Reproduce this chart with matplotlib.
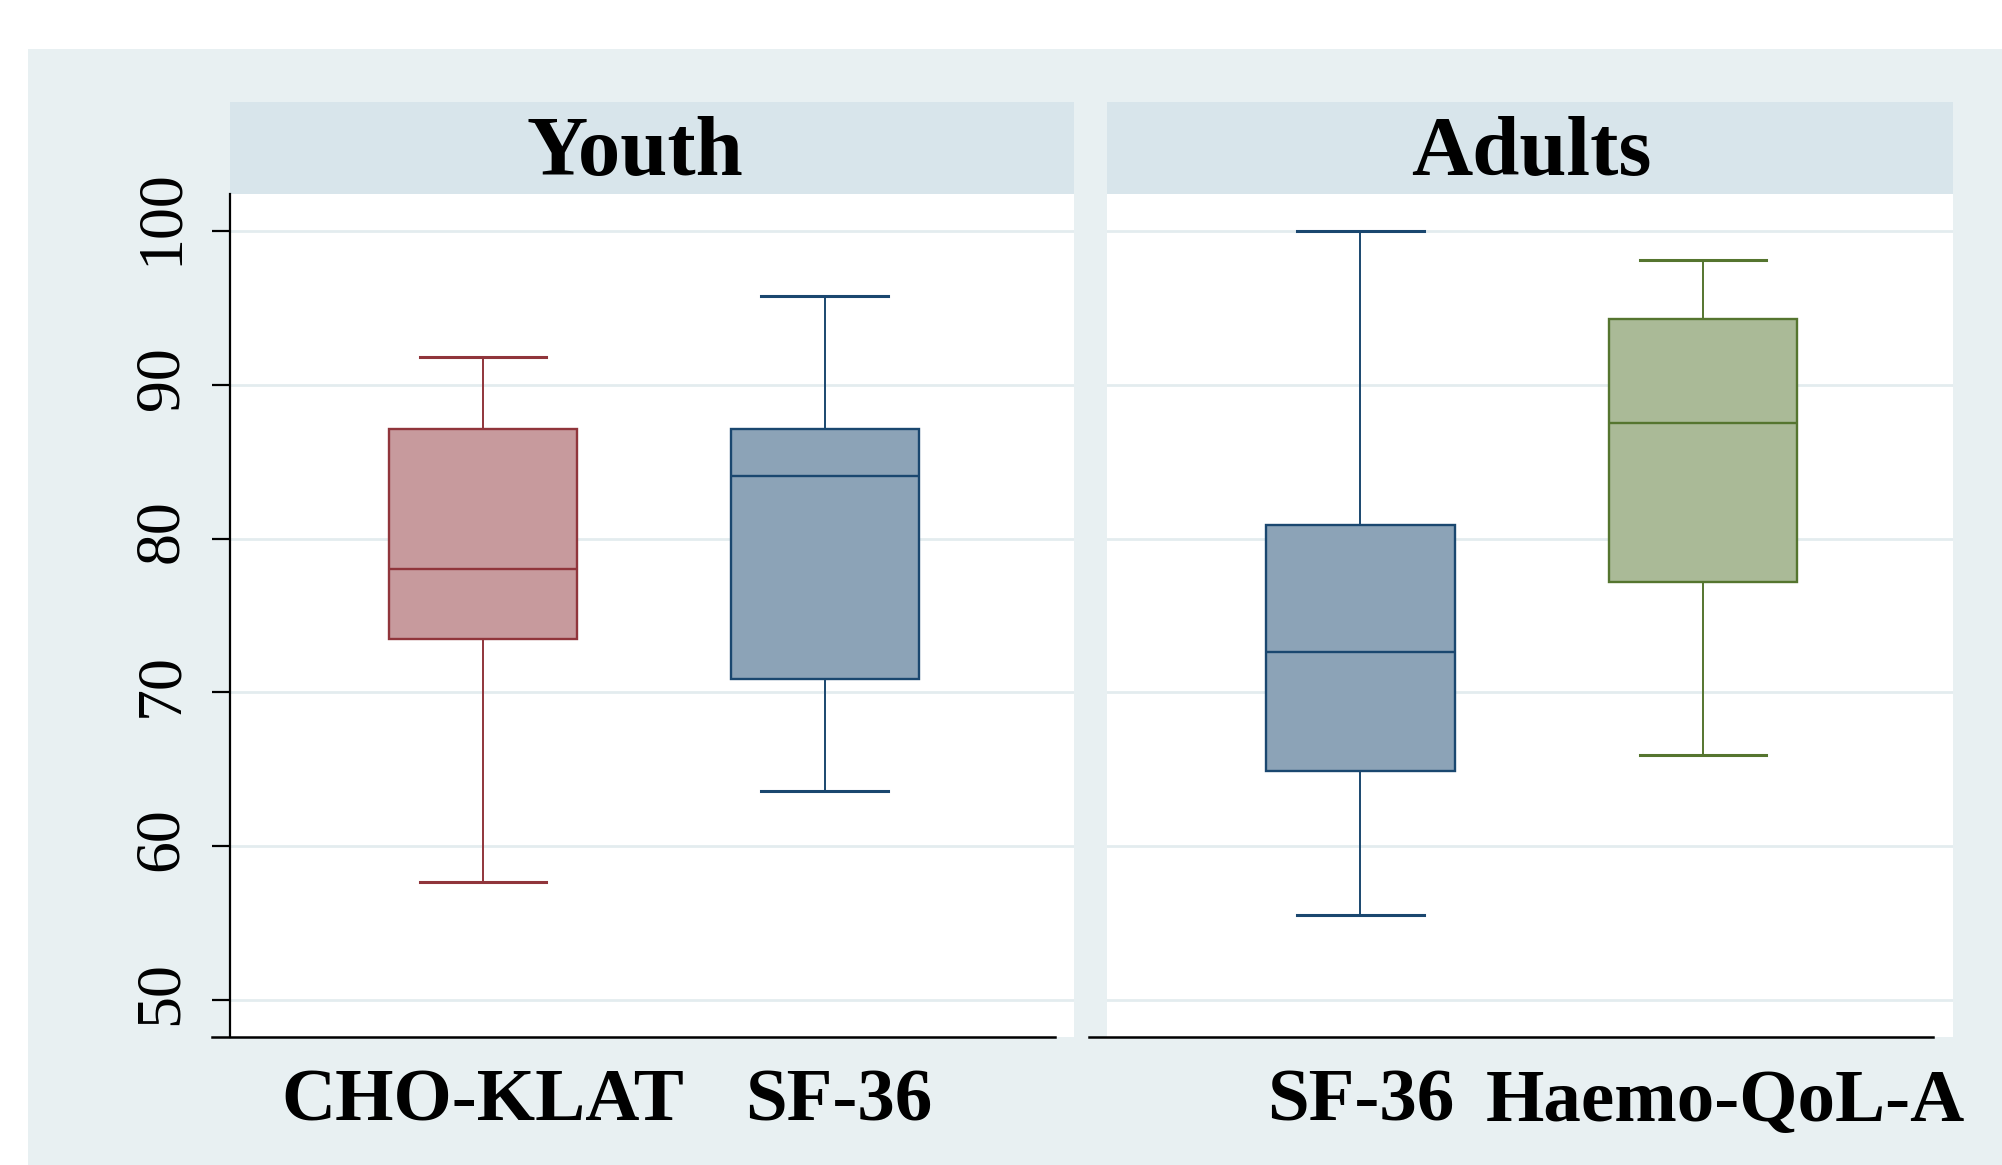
import matplotlib
matplotlib.use('Agg')
import matplotlib.pyplot as plt
import matplotlib.transforms as mtransforms
from matplotlib.patches import Rectangle
from matplotlib.lines import Line2D

plt.rcParams['font.family'] = ['Liberation Serif', 'DejaVu Serif']

# ── data ──────────────────────────────────────────────────────────────────────
panel_titles = ['Youth', 'Adults']
youth_labels = ['CHO-KLAT', 'SF-36']
adult_labels = ['SF-36', 'Haemo-QoL-A']

youth_whislo = [57.7, 63.6]
youth_q1     = [73.5, 70.9]
youth_med    = [78.0, 84.1]
youth_q3     = [87.1, 87.1]
youth_whishi = [91.8, 95.8]

adult_whislo = [55.5, 65.9]
adult_q1     = [64.9, 77.2]
adult_med    = [72.6, 87.5]
adult_q3     = [80.9, 94.3]
adult_whishi = [100.0, 98.1]

y_ticks = [50, 60, 70, 80, 90, 100]

# instrument colours (fill, edge)
colours = {
    'CHO-KLAT':    ('#C79A9D', '#90353B'),
    'SF-36':       ('#8CA3B7', '#1A476F'),
    'Haemo-QoL-A': ('#AABA97', '#55752F'),
}

OUTER_BG = '#E8F0F2'
STRIP_BG = '#D8E5EB'
GRID_COL = '#E3ECEF'

# ── figure in pixel units ────────────────────────────────────────────────────
W, H = 2002, 1165
fig = plt.figure(figsize=(W / 100, H / 100), dpi=100)
fig.patch.set_facecolor('white')

def fx(px):
    return px / W

def fy(py):
    return 1 - py / H

fig.add_artist(Rectangle((fx(28), 0), 1 - fx(28), fy(49), transform=fig.transFigure,
                         facecolor=OUTER_BG, edgecolor='none', zorder=-10))

panels = [(230, 1074), (1107, 1953)]
title_x = [635, 1531]
top, bottom = 194, 1037

def stats_for(labels, lo, q1, med, q3, hi):
    return [dict(label=l, whislo=a, q1=b, med=c, q3=d, whishi=e)
            for l, a, b, c, d, e in zip(labels, lo, q1, med, q3, hi)]

all_stats = [
    stats_for(youth_labels, youth_whislo, youth_q1, youth_med, youth_q3, youth_whishi),
    stats_for(adult_labels, adult_whislo, adult_q1, adult_med, adult_q3, adult_whishi),
]

# second label in each panel sits a little to the right in the original
label_shift = [(0, 14), (0, 22)]

axes = []
for i, (x0, x1) in enumerate(panels):
    ax = fig.add_axes([fx(x0), fy(bottom), fx(x1) - fx(x0), fy(top) - fy(bottom)])
    ax.set_facecolor('white')
    stats = all_stats[i]
    bp = ax.bxp(stats, positions=[1, 2], widths=0.55, capwidths=0.37,
                patch_artist=True, showfliers=False)
    for j, s in enumerate(stats):
        fill, edge = colours[s['label']]
        bp['boxes'][j].set(facecolor=fill, edgecolor=edge, linewidth=1.7)
        bp['medians'][j].set(color=edge, linewidth=1.7)
        for k in (2 * j, 2 * j + 1):
            bp['whiskers'][k].set(color=edge, linewidth=1.4)
            bp['caps'][k].set(color=edge, linewidth=2.2)
    ax.set_xlim(0.26, 2.73)
    ax.set_ylim(47.6, 102.4)
    ax.set_yticks(y_ticks)
    ax.yaxis.grid(True, color=GRID_COL, linewidth=2)
    ax.set_axisbelow(True)
    for sp in ax.spines.values():
        sp.set_visible(False)
    ax.tick_params(axis='x', length=0, pad=23, labelsize=54)
    for j, lab in enumerate(ax.get_xticklabels()):
        lab.set_fontweight('bold')
        dx = label_shift[i][j]
        if dx:
            lab.set_transform(lab.get_transform() +
                              mtransforms.Affine2D().translate(dx, 0))
    if i == 0:
        ax.spines['left'].set_visible(True)
        ax.spines['left'].set_linewidth(1.6)
        ax.tick_params(axis='y', length=13, width=1.6, pad=15, labelsize=46,
                       labelrotation=90)
        for lab in ax.get_yticklabels():
            lab.set_va('center')
            # Stata nudges rotated labels upward, more so for longer ones
            dy = 7 * len(lab.get_text()) - 7
            lab.set_transform(lab.get_transform() +
                              mtransforms.Affine2D().translate(0, dy))
    else:
        ax.tick_params(axis='y', left=False, labelleft=False)
    axes.append(ax)

    # strip title
    fig.add_artist(Rectangle((fx(x0), fy(top)), fx(x1) - fx(x0), fy(102) - fy(top),
                             transform=fig.transFigure, facecolor=STRIP_BG,
                             edgecolor='none', zorder=-5))
    fig.text(fx(title_x[i]), fy((102 + top) / 2 + 6), panel_titles[i],
             ha='center', va='center', fontsize=61, fontweight='bold')

# x axis lines (drawn slightly shifted left, as in the reference)
for xa, xb in [(212, 1055), (1089, 1933)]:
    fig.add_artist(Line2D([fx(xa), fx(xb)], [fy(bottom), fy(bottom)],
                          transform=fig.transFigure, color='black', linewidth=1.8))

fig.savefig('out.png', dpi=100)
